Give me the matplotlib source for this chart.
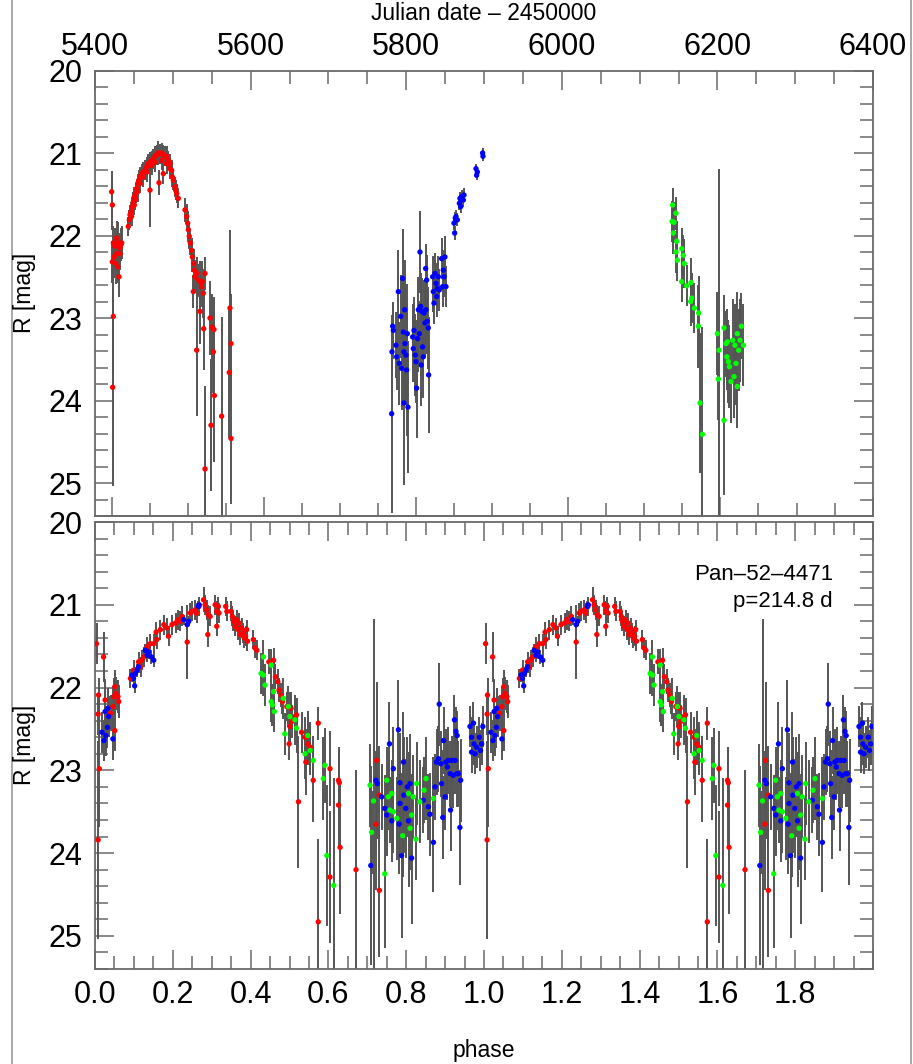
import numpy as np
import matplotlib
matplotlib.use("Agg")
import matplotlib.pyplot as plt
from matplotlib.ticker import MultipleLocator, FixedLocator, FormatStrFormatter, NullFormatter
from matplotlib.lines import Line2D
from matplotlib import font_manager

# ---------------------------------------------------------------- light curve
# Time series (JD - 2450000), R magnitude and 1-sigma error, one set per season
red_jd = [5421.4, 5422.3, 5422.7, 5423.6, 5422.3, 5423.6, 5424.8, 5425.7, 5426.6, 5427.8,
          5427.8, 5429.1, 5430.0, 5430.8, 5432.1, 5432.1, 5433.4, 5434.3, 5442.8, 5444.1,
          5445.0, 5446.3, 5447.0, 5448.0, 5449.3, 5450.6, 5450.6, 5451.4, 5452.3, 5453.6,
          5454.8, 5454.8, 5456.5, 5457.8, 5457.8, 5460.0, 5462.1, 5462.1, 5464.3, 5466.4,
          5466.4, 5468.5, 5470.7, 5470.7, 5472.8, 5472.8, 5475.0, 5477.1, 5477.1, 5479.3,
          5481.4, 5482.3, 5483.5, 5485.7, 5485.7, 5487.8, 5487.8, 5490.0, 5492.1, 5492.1,
          5494.2, 5496.4, 5496.4, 5498.5, 5499.4, 5500.7, 5502.8, 5503.7, 5505.0, 5507.1,
          5515.7, 5517.8, 5519.1, 5520.0, 5521.2, 5522.5, 5524.2, 5525.1, 5526.4, 5526.8,
          5527.7, 5528.5, 5530.7, 5530.7, 5532.8, 5534.9, 5534.9, 5537.1, 5537.9, 5539.2,
          5539.7, 5541.4, 5541.4, 5547.8, 5549.1, 5550.8, 5552.1, 5552.9, 5553.4, 5562.8,
          5572.6, 5573.5, 5574.8, 5574.8]
red_mag = [21.47, 21.63, 23.84, 22.98, 22.32, 22.09, 22.26, 22.13, 22.34, 22.03,
           22.22, 22.38, 22.09, 22.50, 22.15, 22.22, 22.11, 22.09, 21.89, 21.81,
           21.75, 21.71, 21.77, 21.65, 21.59, 21.53, 21.63, 21.57, 21.49, 21.43,
           21.37, 21.47, 21.33, 21.29, 21.37, 21.25, 21.23, 21.29, 21.21, 21.17,
           21.23, 21.13, 21.11, 21.45, 21.09, 21.15, 21.07, 21.04, 21.11, 21.02,
           21.00, 21.36, 21.01, 21.00, 21.09, 21.02, 21.25, 21.04, 21.04, 21.13,
           21.09, 21.13, 21.19, 21.21, 21.29, 21.33, 21.41, 21.45, 21.49, 21.55,
           21.69, 21.77, 21.85, 21.93, 22.01, 22.09, 22.18, 22.26, 22.68, 22.34,
           22.42, 22.50, 22.46, 23.39, 22.54, 22.56, 22.92, 22.62, 22.56, 22.70,
           23.13, 22.46, 24.83, 23.00, 24.30, 23.11, 23.41, 23.14, 23.94, 24.19,
           23.66, 22.88, 23.31, 24.46]
red_err = [0.25, 0.30, 1.20, 0.70, 0.25, 0.20, 0.25, 0.22, 0.25, 0.20,
           0.22, 0.20, 0.25, 0.25, 0.18, 0.20, 0.20, 0.20, 0.12, 0.12,
           0.12, 0.12, 0.12, 0.12, 0.12, 0.12, 0.12, 0.12, 0.12, 0.12,
           0.12, 0.12, 0.12, 0.12, 0.12, 0.12, 0.12, 0.12, 0.12, 0.12,
           0.12, 0.12, 0.12, 0.45, 0.12, 0.12, 0.12, 0.12, 0.12, 0.12,
           0.15, 0.15, 0.12, 0.12, 0.12, 0.12, 0.12, 0.12, 0.12, 0.12,
           0.12, 0.12, 0.12, 0.12, 0.12, 0.12, 0.12, 0.12, 0.12, 0.12,
           0.15, 0.15, 0.15, 0.15, 0.15, 0.15, 0.15, 0.18, 0.20, 0.18,
           0.20, 0.20, 0.20, 0.80, 0.20, 0.25, 0.40, 0.25, 0.25, 0.30,
           0.50, 0.20, 1.00, 0.45, 0.80, 0.40, 0.50, 0.40, 0.80, 1.20,
           0.80, 0.95, 0.60, 0.80]

blue_jd = [5781.3, 5782.6, 5783.4, 5781.7, 5786.9, 5787.7, 5789.9, 5791.1, 5792.9, 5794.1,
           5795.4, 5796.3, 5797.1, 5797.1, 5798.0, 5798.4, 5799.7, 5800.6, 5801.4, 5802.3,
           5808.3, 5809.1, 5810.0, 5811.7, 5812.6, 5813.4, 5814.7, 5815.6, 5816.9, 5817.7,
           5818.6, 5819.4, 5820.3, 5821.1, 5822.0, 5822.8, 5824.1, 5825.0, 5825.4, 5826.3,
           5827.1, 5828.4, 5828.8, 5834.0, 5834.8, 5835.7, 5837.0, 5838.3, 5839.1, 5840.0,
           5841.3, 5842.5, 5845.5, 5846.8, 5847.7, 5848.6, 5849.8, 5851.1, 5861.4, 5862.3,
           5863.1, 5864.0, 5865.7, 5868.3, 5869.1, 5870.0, 5871.3, 5873.4, 5874.3, 5889.7,
           5890.5, 5891.4, 5898.2, 5898.7]
blue_mag = [24.16, 23.10, 23.15, 23.41, 23.33, 23.47, 22.68, 23.55, 22.98, 23.61,
            22.52, 23.17, 23.41, 24.03, 22.90, 23.31, 23.45, 23.63, 23.19, 24.08,
            23.23, 23.37, 23.15, 23.45, 23.53, 23.85, 23.25, 22.90, 23.19, 22.20,
            22.86, 23.57, 22.92, 23.35, 23.47, 22.94, 23.06, 22.40, 22.90, 22.54,
            23.04, 23.12, 23.69, 22.50, 22.68, 22.82, 22.46, 22.58, 22.74, 22.64,
            22.50, 22.66, 22.28, 22.62, 22.42, 22.50, 22.26, 22.62, 21.85, 21.97,
            21.79, 21.77, 21.81, 21.61, 21.55, 21.65, 21.53, 21.57, 21.51, 21.19,
            21.27, 21.23, 21.00, 21.04]
blue_err = [1.20, 0.30, 0.35, 0.40, 0.40, 0.40, 0.50, 0.50, 0.50, 0.50,
            0.60, 0.60, 0.60, 1.00, 0.60, 0.70, 0.60, 0.80, 0.60, 0.80,
            0.40, 0.40, 0.40, 0.50, 0.50, 0.60, 0.40, 0.40, 0.40, 0.50,
            0.40, 0.50, 0.40, 0.40, 0.50, 0.40, 0.40, 0.30, 0.40, 0.30,
            0.40, 0.50, 0.70, 0.25, 0.25, 0.25, 0.25, 0.25, 0.25, 0.25,
            0.25, 0.25, 0.25, 0.25, 0.25, 0.25, 0.25, 0.25, 0.08, 0.08,
            0.08, 0.08, 0.08, 0.08, 0.08, 0.08, 0.08, 0.08, 0.08, 0.06,
            0.06, 0.06, 0.06, 0.06]

green_jd = [6142.5, 6146.8, 6141.7, 6144.2, 6143.4, 6147.7, 6146.8, 6148.5, 6154.1, 6156.2,
            6157.5, 6154.1, 6160.5, 6166.1, 6167.0, 6165.7, 6170.4, 6175.9, 6175.5, 6177.7,
            6180.7, 6199.9, 6202.1, 6201.2, 6208.5, 6208.5, 6211.1, 6212.2, 6212.8, 6214.1,
            6215.4, 6217.5, 6219.6, 6221.4, 6222.6, 6223.9, 6225.6, 6225.6, 6227.4, 6229.1,
            6230.8, 6233.4]
green_mag = [21.63, 21.73, 21.83, 21.84, 21.97, 22.07, 22.20, 22.30, 22.16, 22.24,
             22.34, 22.56, 22.61, 22.57, 22.76, 22.80, 22.88, 22.94, 23.10, 24.03,
             24.41, 23.19, 23.39, 23.74, 23.12, 24.24, 23.31, 23.47, 23.29, 23.53,
             23.59, 23.77, 23.27, 23.71, 23.33, 23.55, 23.19, 23.83, 23.39, 23.27,
             23.10, 23.33]
green_err = [0.20, 0.20, 0.25, 0.25, 0.25, 0.25, 0.25, 0.25, 0.25, 0.25,
             0.30, 0.25, 0.25, 0.30, 0.30, 0.30, 0.30, 0.45, 0.50, 0.85,
             1.30, 0.50, 2.20, 0.50, 0.40, 0.90, 0.40, 0.40, 0.40, 0.50,
             0.50, 0.50, 0.50, 0.50, 0.50, 0.50, 0.50, 0.50, 0.50, 0.50,
             0.40, 0.50]

# ------------------------------------------------------- folded (p = 214.8 d)
red_ph = [0.004, 0.022, 0.008, 0.011, 0.008, 0.009, 0.026, 0.040, 0.046, 0.048,
          0.051, 0.051, 0.054, 0.059, 0.061, 0.091, 0.099, 0.112, 0.117, 0.121,
          0.125, 0.134, 0.142, 0.151, 0.157, 0.159, 0.168, 0.177, 0.185, 0.189,
          0.198, 0.207, 0.213, 0.219, 0.224, 0.237, 0.245, 0.249, 0.258, 0.261,
          0.267, 0.279, 0.283, 0.287, 0.290, 0.291, 0.296, 0.309, 0.313, 0.313,
          0.317, 0.319, 0.336, 0.339, 0.350, 0.353, 0.356, 0.360, 0.364, 0.368,
          0.370, 0.373, 0.377, 0.381, 0.384, 0.387, 0.390, 0.392, 0.407, 0.411,
          0.416, 0.447, 0.459, 0.464, 0.470, 0.473, 0.478, 0.482, 0.493, 0.499,
          0.501, 0.504, 0.506, 0.514, 0.518, 0.523, 0.531, 0.540, 0.542, 0.547,
          0.548, 0.553, 0.561, 0.574, 0.574, 0.604, 0.604, 0.626, 0.628, 0.626,
          0.630, 0.671, 0.722, 0.724, 0.731, 0.731]
red_pmag = [21.47, 21.63, 23.84, 22.98, 22.32, 22.09, 22.15, 22.31, 22.23, 22.11,
            21.99, 22.52, 22.07, 22.11, 22.17, 21.89, 21.79, 21.69, 21.75, 21.67,
            21.63, 21.51, 21.47, 21.47, 21.33, 21.42, 21.30, 21.24, 21.28, 21.38,
            21.24, 21.22, 21.18, 21.20, 21.14, 21.45, 21.10, 21.08, 21.06, 21.10,
            21.02, 20.94, 21.00, 21.06, 21.36, 21.12, 21.14, 21.00, 21.08, 21.26,
            21.02, 21.10, 21.02, 21.08, 21.08, 21.14, 21.20, 21.26, 21.18, 21.30,
            21.22, 21.36, 21.28, 21.34, 21.40, 21.38, 21.30, 21.44, 21.42, 21.52,
            21.55, 21.69, 21.67, 21.87, 21.93, 22.03, 22.09, 22.17, 22.23, 22.68,
            22.47, 22.25, 22.41, 22.35, 22.33, 23.38, 22.54, 22.60, 22.90, 22.68,
            22.58, 22.72, 23.12, 22.43, 24.83, 22.98, 24.29, 23.12, 23.15, 23.42,
            23.93, 24.20, 23.65, 22.88, 23.30, 24.45]
red_perr = [0.25, 0.30, 1.20, 0.70, 0.25, 0.20, 0.25, 0.22, 0.25, 0.22,
            0.20, 0.25, 0.20, 0.20, 0.20, 0.12, 0.12, 0.12, 0.12, 0.12,
            0.12, 0.12, 0.12, 0.12, 0.12, 0.12, 0.12, 0.12, 0.12, 0.12,
            0.12, 0.12, 0.12, 0.12, 0.12, 0.45, 0.12, 0.12, 0.12, 0.12,
            0.12, 0.15, 0.12, 0.12, 0.15, 0.12, 0.12, 0.12, 0.12, 0.12,
            0.12, 0.12, 0.12, 0.12, 0.12, 0.12, 0.12, 0.12, 0.12, 0.12,
            0.12, 0.12, 0.12, 0.12, 0.12, 0.12, 0.12, 0.12, 0.12, 0.12,
            0.12, 0.15, 0.15, 0.15, 0.15, 0.15, 0.15, 0.15, 0.18, 0.20,
            0.20, 0.20, 0.20, 0.20, 0.20, 0.80, 0.25, 0.25, 0.40, 0.25,
            0.25, 0.30, 0.50, 0.20, 1.00, 0.45, 0.80, 0.40, 0.40, 0.50,
            0.80, 1.20, 0.80, 0.95, 0.60, 0.80]

blue_ph = [0.018, 0.023, 0.026, 0.028, 0.032, 0.033, 0.035, 0.046, 0.095, 0.099,
           0.102, 0.104, 0.108, 0.112, 0.129, 0.134, 0.138, 0.145, 0.151, 0.228,
           0.237, 0.241, 0.266, 0.268, 0.709, 0.722, 0.726, 0.737, 0.745, 0.750,
           0.757, 0.763, 0.767, 0.780, 0.782, 0.784, 0.784, 0.788, 0.793, 0.794,
           0.799, 0.803, 0.806, 0.810, 0.814, 0.844, 0.857, 0.861, 0.870, 0.874,
           0.878, 0.883, 0.885, 0.889, 0.891, 0.894, 0.896, 0.900, 0.902, 0.906,
           0.908, 0.913, 0.914, 0.917, 0.921, 0.924, 0.926, 0.928, 0.930, 0.931,
           0.934, 0.938, 0.940, 0.964, 0.968, 0.968, 0.973, 0.974, 0.977, 0.981,
           0.988, 0.991, 0.994, 0.997]
blue_pmag = [22.54, 22.64, 22.29, 22.58, 22.48, 22.25, 22.35, 22.62, 21.85, 21.89,
             21.98, 21.83, 21.79, 21.75, 21.55, 21.61, 21.57, 21.63, 21.67, 21.18,
             21.24, 21.20, 21.02, 21.00, 24.15, 23.12, 23.16, 23.32, 23.46, 23.54,
             22.68, 23.61, 22.98, 22.51, 23.65, 23.15, 23.40, 24.03, 22.90, 23.30,
             23.46, 23.20, 23.61, 23.16, 24.06, 23.36, 23.44, 23.53, 23.87, 23.20,
             22.90, 22.86, 22.20, 22.92, 23.16, 23.57, 22.64, 23.32, 22.90, 22.96,
             22.88, 23.04, 23.48, 22.88, 23.06, 22.39, 22.88, 22.53, 23.04, 22.58,
             23.04, 23.69, 23.12, 22.47, 22.60, 22.78, 22.43, 22.68, 22.80, 22.72,
             22.60, 22.76, 22.68, 22.47]
blue_perr = [0.25, 0.25, 0.25, 0.25, 0.25, 0.25, 0.25, 0.25, 0.08, 0.08,
             0.08, 0.08, 0.08, 0.08, 0.08, 0.08, 0.08, 0.08, 0.08, 0.06,
             0.06, 0.06, 0.06, 0.06, 1.20, 0.35, 0.35, 0.40, 0.40, 0.50,
             0.50, 0.50, 0.50, 0.60, 0.60, 0.60, 0.60, 1.00, 0.60, 0.70,
             0.60, 0.60, 0.80, 0.60, 0.80, 0.40, 0.40, 0.50, 0.60, 0.40,
             0.40, 0.40, 0.50, 0.40, 0.40, 0.50, 0.40, 0.40, 0.40, 0.40,
             0.40, 0.40, 0.50, 0.30, 0.40, 0.30, 0.40, 0.30, 0.40, 0.30,
             0.40, 0.70, 0.50, 0.25, 0.25, 0.25, 0.25, 0.25, 0.25, 0.25,
             0.25, 0.25, 0.25, 0.25]

green_ph = [0.427, 0.433, 0.433, 0.437, 0.453, 0.453, 0.456, 0.459, 0.461, 0.484,
            0.488, 0.497, 0.501, 0.514, 0.518, 0.540, 0.547, 0.553, 0.561, 0.587,
            0.591, 0.596, 0.614, 0.707, 0.711, 0.716, 0.745, 0.750, 0.754, 0.758,
            0.763, 0.767, 0.776, 0.791, 0.806, 0.810, 0.814, 0.818, 0.825, 0.827,
            0.835, 0.846, 0.851, 0.870]
green_pmag = [21.83, 21.63, 21.85, 21.97, 21.73, 22.17, 22.21, 22.05, 22.29, 22.13,
              22.56, 22.23, 22.35, 22.39, 22.49, 22.80, 22.58, 22.76, 22.88, 23.10,
              22.94, 24.03, 24.39, 23.18, 23.75, 23.37, 24.25, 23.12, 23.32, 23.48,
              23.28, 23.50, 23.58, 23.79, 23.28, 23.70, 23.54, 23.32, 23.83, 23.16,
              23.38, 23.24, 23.10, 23.34]
green_perr = [0.25, 0.20, 0.25, 0.25, 0.20, 0.25, 0.25, 0.25, 0.25, 0.25,
              0.25, 0.25, 0.30, 0.30, 0.30, 0.30, 0.30, 0.30, 0.30, 0.50,
              0.45, 0.85, 1.30, 0.50, 0.50, 2.20, 0.90, 0.40, 0.40, 0.40,
              0.40, 0.50, 0.50, 0.50, 0.50, 0.50, 0.50, 0.50, 0.50, 0.50,
              0.50, 0.40, 0.50, 0.50]

major_jd = [5400, 5600, 5800, 6000, 6200, 6400]
phase_labels = [0.0, 0.2, 0.4, 0.6, 0.8, 1.0, 1.2, 1.4, 1.6, 1.8]
object_name = "Pan\u201352\u20134471"
period_text = "p=214.8 d"

# ------------------------------------------------------------------- styling
names = {f.name for f in font_manager.fontManager.ttflist}
main_font = "Liberation Sans Narrow" if "Liberation Sans Narrow" in names else "Liberation Sans"
plt.rcParams['font.family'] = [main_font, 'DejaVu Sans']

W, H = 913, 1064
AX_COLOR = '#6a6a6a'
BAR_COLOR = '#555555'
TICK_FS = 22
LABEL_FS = 16.5

fig = plt.figure(figsize=(W / 100, H / 100), dpi=100)
left, right = 95, 873
ax1 = fig.add_axes([left / W, 1 - 516 / H, (right - left) / W, (516 - 70.5) / H])
ax2 = fig.add_axes([left / W, 1 - 969 / H, (right - left) / W, (969 - 522) / H])


def style_y(ax):
    ax.set_ylim(25.4, 20)
    ax.yaxis.set_major_locator(MultipleLocator(1))
    ax.yaxis.set_minor_locator(MultipleLocator(0.2))
    ax.yaxis.set_major_formatter(FormatStrFormatter('%d'))
    ax.tick_params(axis='y', which='both', direction='in', left=True, right=True,
                   color=AX_COLOR, width=1.1, labelsize=TICK_FS, pad=9)
    ax.tick_params(axis='y', which='major', length=13.5)
    ax.tick_params(axis='y', which='minor', length=9.5)
    for s in ax.spines.values():
        s.set_color(AX_COLOR)
        s.set_linewidth(1.3)


def plot_series(ax, sets):
    for x, y, e, c in sets:
        ax.errorbar(x, y, yerr=e, fmt='none', ecolor=BAR_COLOR, elinewidth=1.4,
                    capsize=0, zorder=2)
    for x, y, e, c in sets:
        ax.scatter(x, y, s=15, c=c, edgecolors='none', zorder=3)


# top panel: time series
style_y(ax1)
ax1.set_xlim(5400, 6400)
ax1.xaxis.set_major_locator(FixedLocator(major_jd))
ax1.xaxis.set_minor_locator(MultipleLocator(50))
ax1.tick_params(axis='x', which='both', direction='in', bottom=False, top=True,
                labelbottom=False, labeltop=True, color=AX_COLOR, width=1.1,
                labelsize=TICK_FS, pad=6)
ax1.tick_params(axis='x', which='major', length=13.5)
ax1.tick_params(axis='x', which='minor', length=9.5)

# elapsed-time ticks along the lower edge of the top panel
day0, step = 5421.5, 48.9
elapsed = day0 + step * np.arange(21)
sec = ax1.secondary_xaxis('bottom')
sec.xaxis.set_major_locator(FixedLocator(elapsed[::4]))
sec.xaxis.set_minor_locator(FixedLocator(elapsed))
sec.xaxis.set_major_formatter(NullFormatter())
sec.tick_params(which='both', direction='in', color=AX_COLOR, width=1.1)
sec.tick_params(which='major', length=13.5)
sec.tick_params(which='minor', length=9.5)
sec.spines['bottom'].set_color(AX_COLOR)
sec.spines['bottom'].set_linewidth(1.3)

plot_series(ax1, [
    (red_jd, red_mag, red_err, '#ff0000'),
    (blue_jd, blue_mag, blue_err, '#0000ff'),
    (green_jd, green_mag, green_err, '#00ff00'),
])

# bottom panel: phased light curve, two cycles
style_y(ax2)
ax2.set_xlim(0, 2.0)
ax2.xaxis.set_major_locator(FixedLocator(phase_labels + [2.0]))
ax2.xaxis.set_minor_locator(MultipleLocator(0.05))
ax2.set_xticklabels([f"{v:.1f}" for v in phase_labels] + [""])
ax2.tick_params(axis='x', which='both', direction='in', bottom=True, top=True,
                color=AX_COLOR, width=1.1, labelsize=TICK_FS, pad=8)
ax2.tick_params(axis='x', which='major', length=13.5)
ax2.tick_params(axis='x', which='minor', length=9.5)

folded = []
for ph, m, e, c in [(red_ph, red_pmag, red_perr, '#ff0000'),
                    (blue_ph, blue_pmag, blue_perr, '#0000ff'),
                    (green_ph, green_pmag, green_perr, '#00ff00')]:
    ph = np.asarray(ph)
    folded.append((np.concatenate([ph, ph + 1]), m + m, e + e, c))
plot_series(ax2, folded)

ax2.text(1.897, 20.64, object_name, ha='right', va='center', fontsize=16)
ax2.text(1.897, 20.96, period_text, ha='right', va='center', fontsize=16)

# axis titles
fig.text(484 / W, 1 - 14 / H, "Julian date \u2013 2450000", ha='center', va='center',
         fontsize=LABEL_FS)
fig.text(484 / W, 1 - 1050 / H, "phase", ha='center', va='center', fontsize=LABEL_FS)
fig.text(25 / W, 1 - 293 / H, "R [mag]", ha='center', va='center', rotation=90,
         fontsize=LABEL_FS)
fig.text(25 / W, 1 - 745 / H, "R [mag]", ha='center', va='center', rotation=90,
         fontsize=LABEL_FS)

# page frame lines
fig.add_artist(Line2D([12 / W, 12 / W], [0, 1], color='#9a9a9a', lw=1.2))
fig.add_artist(Line2D([911 / W, 911 / W], [0, 1], color='#9a9a9a', lw=1.2))

fig.savefig("out.png", dpi=100)
